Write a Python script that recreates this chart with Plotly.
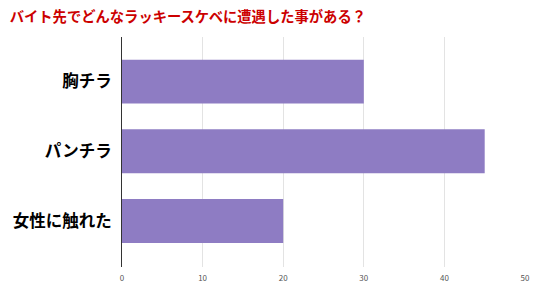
import plotly.graph_objects as go

categories = ["胸チラ", "パンチラ", "女性に触れた"]
values = [30, 45, 20]
x_ticks = [0, 10, 20, 30, 40, 50]
title = "バイト先でどんなラッキースケベに遭遇した事がある？"

fig = go.Figure(go.Bar(
    y=categories, x=values, orientation="h",
    marker=dict(color="#8E7CC3", line=dict(width=0)),
    width=0.63,
))
fig.update_layout(
    width=540, height=286,
    margin=dict(l=122, r=15, t=37, b=19),
    paper_bgcolor="white", plot_bgcolor="white",
    font=dict(family="Noto Sans CJK JP"),
    title=dict(text=title, x=0.018, xanchor="left", y=0.94, yanchor="middle",
               font=dict(size=14.3, color="#CC0000", family="Noto Sans CJK JP", weight=600)),
    showlegend=False,
)
fig.update_xaxes(range=[0, 50], tickvals=x_ticks, showgrid=True, gridcolor="#E3E3E3",
                 zeroline=False, tickfont=dict(size=8, color="#555555"), ticks="",
                 ticklabelstandoff=5, automargin=False)
fig.update_yaxes(range=[2.66, -0.64], categoryorder="array", categoryarray=categories,
                 showline=True, linecolor="#333333", linewidth=1, showgrid=False,
                 tickfont=dict(size=16.5, color="#000000", weight="bold"), ticks="",
                 ticklabelstandoff=6, automargin=False)
fig.write_html("out.html")
